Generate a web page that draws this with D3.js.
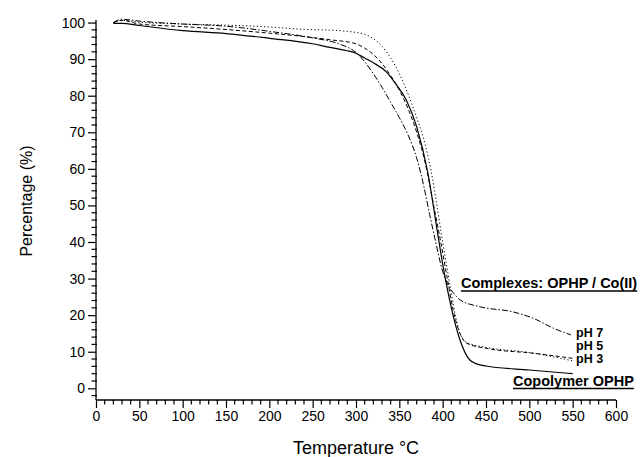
<!DOCTYPE html>
<html><head><meta charset="utf-8">
<script src="https://cdn.jsdelivr.net/npm/d3@7"></script>
<style>
html,body{margin:0;padding:0;background:#fff;}
svg{display:block;font-family:"Liberation Sans",Arial,sans-serif;}
</style></head>
<body>
<svg id="chart" width="643" height="457"></svg>
<script>
// ---- data ----
const xTicks = [0,50,100,150,200,250,300,350,400,450,500,550,600];
const yTicks = [0,10,20,30,40,50,60,70,80,90,100];

const copolymerT = [20,30,50,100,150,200,250,270,290,300,310,320,335,345,358,370,383,393,400,410,420,431,440,450,500,550];
const copolymerP = [99.8,99.8,99.2,97.8,97.0,95.7,94.2,93.2,92.3,91.6,90.3,89.0,86.5,83.5,78.8,71.5,58.8,44.2,34,22,13.2,7.8,6.6,6.1,5.0,4.0];

const pH7T = [20,30,50,100,150,200,250,280,300,310,320,330,340,350,360,370,378,385,391,400,407,412,420,443,481,505,528,548];
const pH7P = [100,100.9,100.4,99.6,99.0,97.6,95.8,94.2,91.8,89.3,86,82.3,78.2,74,69.3,63,55.5,47.5,41,32,27.8,26.2,24.2,22.3,20.9,19.1,16.4,14.6];

const pH5T = [20,30,50,100,150,200,235,270,300,310,320,330,340,350,360,370,380,390,397,405,412,420,428,451,504,550];
const pH5P = [100,100.6,99.6,98.9,98.1,97.1,96.3,95.3,94.2,93,91.3,88.8,85.5,81.5,76.5,70,61.5,49.5,41,30.5,21.5,15,12.3,10.9,9.6,8.2];

const pH3T = [20,30,50,100,150,200,235,280,300,310,320,330,340,350,360,370,380,387,393,400,405,410,415,420,428,450,500,550];
const pH3P = [100,100.6,100.1,99.6,99.3,98.8,98.2,97.8,97.3,96.8,95.6,93.5,90.3,86,80.5,74,66.5,59,50.5,40,33,26,19.5,15,12.5,11.2,9.8,7.5];

const seriesNames = ["Copolymer OPHP","pH 7","pH 5","pH 3"];

// ---- chart ----
const svg = d3.select("#chart");
const x = d3.scaleLinear().domain([0,600]).range([96,616]);
const y = d3.scaleLinear().domain([-3.2,100.7]).range([400,20]);

const series = [
  {name:seriesNames[0], T:copolymerT, P:copolymerP, dash:null, w:1.2},
  {name:seriesNames[1], T:pH7T, P:pH7P, dash:"6,2,1.5,2", w:1},
  {name:seriesNames[2], T:pH5T, P:pH5P, dash:"4,2.5", w:1},
  {name:seriesNames[3], T:pH3T, P:pH3P, dash:"1.2,2.4", w:1}
];

const line = d3.line().x(d=>x(d[0])).y(d=>y(d[1])).curve(d3.curveMonotoneX);
series.forEach(s=>{
  svg.append("path")
    .datum(s.T.map((t,i)=>[t,s.P[i]]))
    .attr("d",line)
    .attr("fill","none")
    .attr("stroke","#000")
    .attr("stroke-width",s.w)
    .attr("stroke-dasharray",s.dash);
});

// axes
const xAxis = d3.axisBottom(x).tickValues(xTicks).tickSize(8).tickPadding(3).tickFormat(d3.format("d"));
const gx = svg.append("g").attr("transform","translate(0,400)").call(xAxis);
const yAxis = d3.axisLeft(y).tickValues(yTicks).tickSize(8).tickPadding(3).tickFormat(d3.format("d"));
const gy = svg.append("g").attr("transform","translate(96,0)").call(yAxis);
[gx,gy].forEach(g=>{
  g.select(".domain").attr("stroke","#000").attr("stroke-width",1.3);
  g.selectAll(".tick line").attr("stroke","#000").attr("stroke-width",1.2);
  g.selectAll(".tick text").attr("font-size","14px").attr("fill","#000").attr("font-family","Liberation Sans, Arial, sans-serif");
});
gx.select(".domain").attr("d","M96,0H616");
gy.select(".domain").attr("d","M0,400V20");

// minor ticks
const xMinor = d3.range(0,601,10).filter(v=>v%50!==0);
svg.append("g").selectAll("line").data(xMinor).join("line")
  .attr("x1",d=>x(d)).attr("x2",d=>x(d)).attr("y1",400).attr("y2",404.5)
  .attr("stroke","#000").attr("stroke-width",1.2);
const yMinor = d3.range(-2,101,2).filter(v=>v%10!==0);
svg.append("g").selectAll("line").data(yMinor).join("line")
  .attr("x1",91.5).attr("x2",97).attr("y1",d=>y(d)).attr("y2",d=>y(d))
  .attr("stroke","#000").attr("stroke-width",1.2);

// axis titles
svg.append("text").attr("x",356).attr("y",454).attr("text-anchor","middle")
  .attr("font-size","18px").attr("fill","#000").text("Temperature °C");
svg.append("text").attr("transform","translate(32,201) rotate(-90)").attr("text-anchor","middle")
  .attr("font-size","16px").attr("fill","#000").text("Percentage (%)");

// annotations
function ulabel(txt,xx,yy,size){
  const t = svg.append("text").attr("x",xx).attr("y",yy).attr("font-size",size+"px")
    .attr("font-weight","bold").attr("fill","#000").text(txt);
  const w = t.node().getComputedTextLength();
  svg.append("line").attr("x1",xx).attr("x2",xx+w).attr("y1",yy+3).attr("y2",yy+3)
    .attr("stroke","#000").attr("stroke-width",1.4);
}
ulabel("Complexes: OPHP / Co(II)",461,288,14.5);
ulabel(seriesNames[0],513,385.5,14.5);
[[seriesNames[1],337],[seriesNames[2],350],[seriesNames[3],363]].forEach(([t,yy])=>{
  svg.append("text").attr("x",576).attr("y",yy).attr("font-size","12.5px")
    .attr("font-weight","bold").attr("fill","#000").text(t);
});
</script>
</body></html>
